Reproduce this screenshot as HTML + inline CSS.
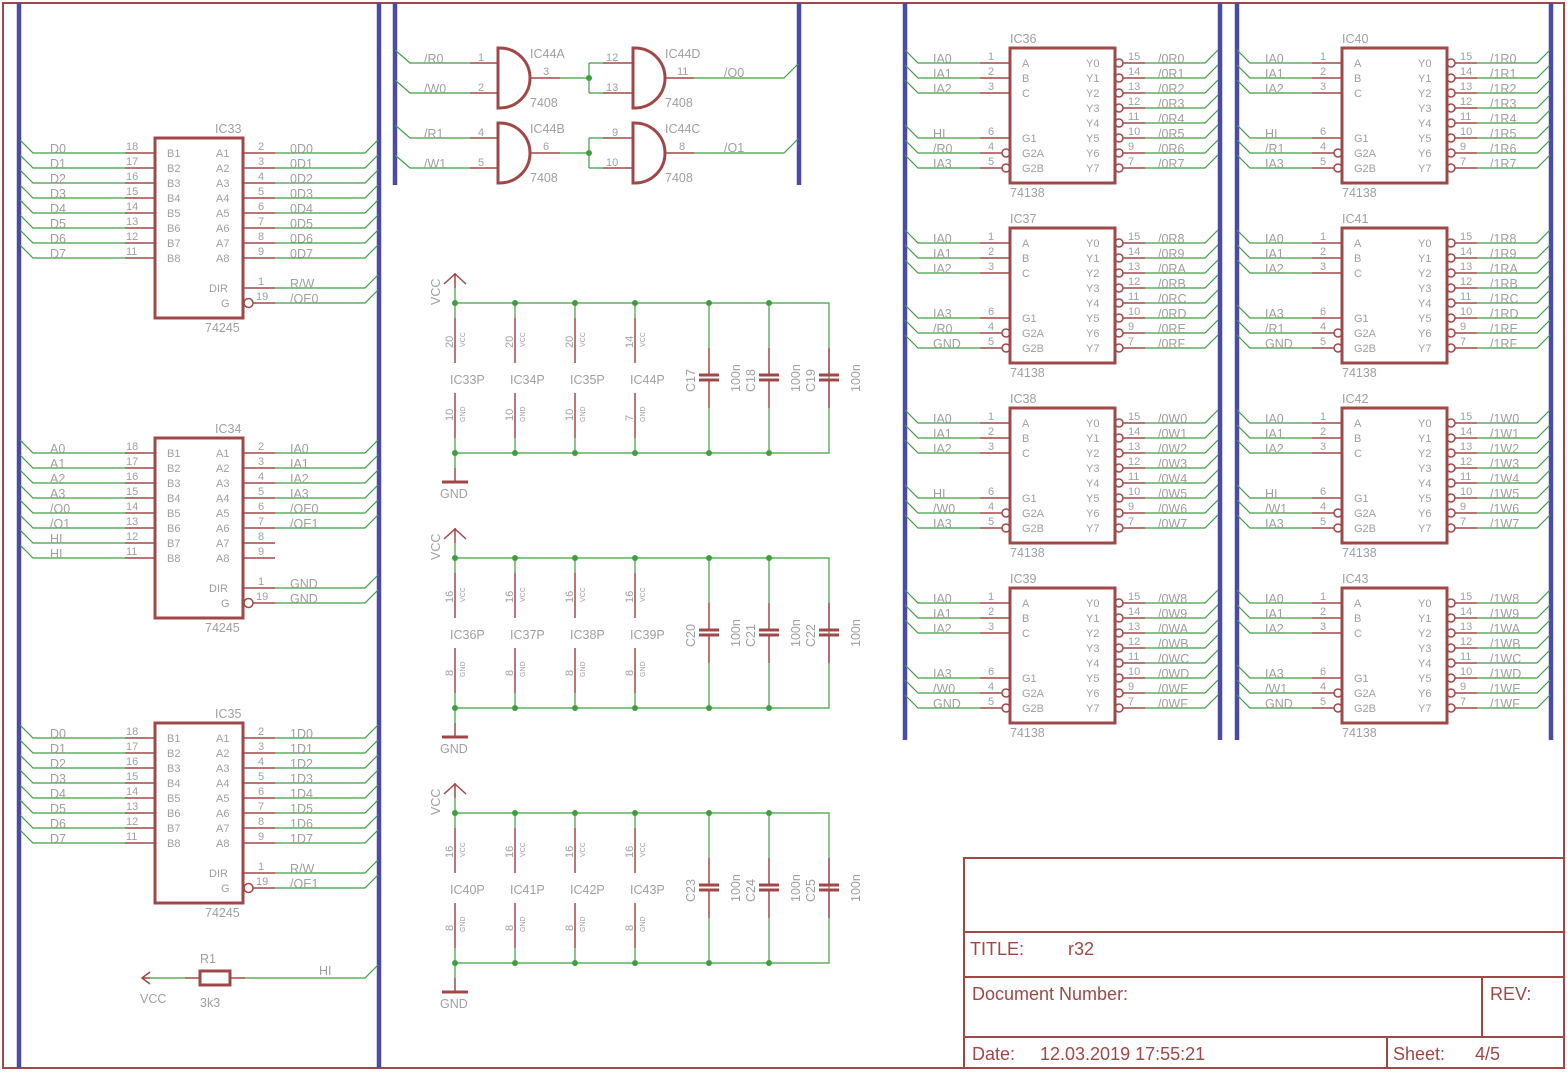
<!DOCTYPE html>
<html><head><meta charset="utf-8"><style>
html,body{margin:0;padding:0;background:#fff;}
svg{display:block;font-family:"Liberation Sans",sans-serif;}
.t{fill:#a0a0a0;font-size:12.5px;}
.s{fill:#a0a0a0;font-size:11px;}
.x{fill:#a0a0a0;font-size:7px;}
.g{stroke:#3f9f3f;stroke-width:1.2;fill:none;}
.r{stroke:#a04848;stroke-width:1.5;fill:none;}
.rb{stroke:#a04848;stroke-width:3;fill:none;}
.b{stroke:#4a4aa8;stroke-width:4.5;}
.tt{fill:#a04848;font-size:18px;}
</style></head><body>
<svg width="1567" height="1073" viewBox="0 0 1567 1073" xmlns="http://www.w3.org/2000/svg">
<defs>
<g id="c245">
<rect x="155" y="138" width="88" height="180" class="rb"/>
<path class="r" d="M125 153H155M125 168H155M125 183H155M125 198H155M125 213H155M125 228H155M125 243H155M125 258H155M243 153H275M243 168H275M243 183H275M243 198H275M243 213H275M243 228H275M243 243H275M243 258H275M243 288H275M253 303H275"/>
<circle cx="248.5" cy="303" r="4.5" class="r"/>
<path class="g" d="M20 140L33 153H125M20 155L33 168H125M20 170L33 183H125M20 185L33 198H125M20 200L33 213H125M20 215L33 228H125M20 230L33 243H125M20 245L33 258H125M275 153H365L378 140M275 168H365L378 155M275 183H365L378 170M275 198H365L378 185M275 213H365L378 200M275 228H365L378 215M275 288H365L378 275M275 303H365L378 290"/>
<g class="s"><text x="126" y="150">18</text><text x="126" y="165">17</text><text x="126" y="180">16</text><text x="126" y="195">15</text><text x="126" y="210">14</text><text x="126" y="225">13</text><text x="126" y="240">12</text><text x="126" y="255">11</text>
<text x="258" y="150">2</text><text x="258" y="165">3</text><text x="258" y="180">4</text><text x="258" y="195">5</text><text x="258" y="210">6</text><text x="258" y="225">7</text><text x="258" y="240">8</text><text x="258" y="255">9</text><text x="258" y="285">1</text><text x="256" y="300">19</text>
<text x="167" y="157">B1</text><text x="167" y="172">B2</text><text x="167" y="187">B3</text><text x="167" y="202">B4</text><text x="167" y="217">B5</text><text x="167" y="232">B6</text><text x="167" y="247">B7</text><text x="167" y="262">B8</text>
<text x="216" y="157">A1</text><text x="216" y="172">A2</text><text x="216" y="187">A3</text><text x="216" y="202">A4</text><text x="216" y="217">A5</text><text x="216" y="232">A6</text><text x="216" y="247">A7</text><text x="216" y="262">A8</text>
<text x="209" y="292">DIR</text><text x="221" y="307">G</text></g>
<text class="t" x="205" y="332">74245</text>
</g>
<g id="c138">
<rect x="1010" y="48" width="105" height="135" class="rb"/>
<path class="r" d="M980 63H1010M980 78H1010M980 93H1010M980 138H1010M980 153H1002M980 168H1002M1123 63H1145M1123 78H1145M1123 93H1145M1123 108H1145M1123 123H1145M1123 138H1145M1123 153H1145M1123 168H1145"/>
<g class="r"><circle cx="1006" cy="153" r="4"/><circle cx="1006" cy="168" r="4"/><circle cx="1119" cy="63" r="4"/><circle cx="1119" cy="78" r="4"/><circle cx="1119" cy="93" r="4"/><circle cx="1119" cy="108" r="4"/><circle cx="1119" cy="123" r="4"/><circle cx="1119" cy="138" r="4"/><circle cx="1119" cy="153" r="4"/><circle cx="1119" cy="168" r="4"/></g>
<path class="g" d="M905 50L918 63H980M905 65L918 78H980M905 80L918 93H980M905 125L918 138H980M905 140L918 153H980M905 155L918 168H980M1145 63H1205L1218 50M1145 78H1205L1218 65M1145 93H1205L1218 80M1145 108H1205L1218 95M1145 123H1205L1218 110M1145 138H1205L1218 125M1145 153H1205L1218 140M1145 168H1205L1218 155"/>
<g class="s"><text x="988" y="60">1</text><text x="988" y="75">2</text><text x="988" y="90">3</text><text x="988" y="135">6</text><text x="988" y="150">4</text><text x="988" y="165">5</text>
<text x="1128" y="60">15</text><text x="1128" y="75">14</text><text x="1128" y="90">13</text><text x="1128" y="105">12</text><text x="1128" y="120">11</text><text x="1128" y="135">10</text><text x="1128" y="150">9</text><text x="1128" y="165">7</text>
<text x="1022" y="67">A</text><text x="1022" y="82">B</text><text x="1022" y="97">C</text><text x="1022" y="142">G1</text><text x="1022" y="157">G2A</text><text x="1022" y="172">G2B</text>
<text x="1086" y="67">Y0</text><text x="1086" y="82">Y1</text><text x="1086" y="97">Y2</text><text x="1086" y="112">Y3</text><text x="1086" y="127">Y4</text><text x="1086" y="142">Y5</text><text x="1086" y="157">Y6</text><text x="1086" y="172">Y7</text></g>
<text class="t" x="1010" y="197">74138</text>
</g>
<g id="pw">
<path class="g" d="M455 288V303H829V453H455V468M455 303V318M515 303V318M575 303V318M635 303V318M455 438V453M515 438V453M575 438V453M635 438V453M709 303V348M769 303V348M829 303V348M709 408V453M769 408V453"/>
<path class="r" d="M455 273V288M444 284L455 274L466 284M455 468V482M455 318V363M515 318V363M575 318V363M635 318V363M455 393V438M515 393V438M575 393V438M635 393V438M709 348V375M769 348V375M829 348V375M709 380V408M769 380V408M829 380V408"/>
<path class="rb" d="M442 482H468M699 375H719M699 380H719M759 375H779M759 380H779M819 375H839M819 380H839"/>
<g fill="#3f9f3f"><circle cx="455" cy="303" r="3"/><circle cx="515" cy="303" r="3"/><circle cx="575" cy="303" r="3"/><circle cx="635" cy="303" r="3"/><circle cx="709" cy="303" r="3"/><circle cx="769" cy="303" r="3"/><circle cx="455" cy="453" r="3"/><circle cx="515" cy="453" r="3"/><circle cx="575" cy="453" r="3"/><circle cx="635" cy="453" r="3"/><circle cx="709" cy="453" r="3"/><circle cx="769" cy="453" r="3"/></g>
<text class="t" transform="translate(440,305) rotate(-90)">VCC</text>
<text class="t" x="440" y="498">GND</text>
<g class="x"><text transform="translate(465,347) rotate(-90)">VCC</text><text transform="translate(525,347) rotate(-90)">VCC</text><text transform="translate(585,347) rotate(-90)">VCC</text><text transform="translate(645,347) rotate(-90)">VCC</text>
<text transform="translate(465,422) rotate(-90)">GND</text><text transform="translate(525,422) rotate(-90)">GND</text><text transform="translate(585,422) rotate(-90)">GND</text><text transform="translate(645,422) rotate(-90)">GND</text></g>
<g class="t"><text transform="translate(740,392) rotate(-90)">100n</text><text transform="translate(800,392) rotate(-90)">100n</text><text transform="translate(860,392) rotate(-90)">100n</text></g>
</g>
</defs>

<rect x="3" y="3" width="1561" height="1065" fill="none" stroke="#a04848" stroke-width="2"/>
<g class="b"><line x1="19" y1="3" x2="19" y2="1068"/><line x1="379" y1="3" x2="379" y2="1068"/><line x1="395" y1="3" x2="395" y2="185"/><line x1="799" y1="3" x2="799" y2="185"/><line x1="905" y1="3" x2="905" y2="740"/><line x1="1220" y1="3" x2="1220" y2="740"/><line x1="1237" y1="3" x2="1237" y2="740"/><line x1="1551" y1="3" x2="1551" y2="740"/></g>

<use href="#c245"/>
<g class="t"><text x="215" y="133">IC33</text>
<text x="50" y="153">D0</text><text x="50" y="168">D1</text><text x="50" y="183">D2</text><text x="50" y="198">D3</text><text x="50" y="213">D4</text><text x="50" y="228">D5</text><text x="50" y="243">D6</text><text x="50" y="258">D7</text>
<text x="290" y="153">0D0</text><text x="290" y="168">0D1</text><text x="290" y="183">0D2</text><text x="290" y="198">0D3</text><text x="290" y="213">0D4</text><text x="290" y="228">0D5</text><text x="290" y="243">0D6</text><text x="290" y="258">0D7</text><text x="290" y="288">R/W</text><text x="290" y="303">/OE0</text></g>
<path class="g" d="M275 243H365L378 230M275 258H365L378 245"/>

<g transform="translate(0,300)"><use href="#c245"/>
<g class="t"><text x="215" y="133">IC34</text>
<text x="50" y="153">A0</text><text x="50" y="168">A1</text><text x="50" y="183">A2</text><text x="50" y="198">A3</text><text x="50" y="213">/O0</text><text x="50" y="228">/O1</text><text x="50" y="243">HI</text><text x="50" y="258">HI</text>
<text x="290" y="153">IA0</text><text x="290" y="168">IA1</text><text x="290" y="183">IA2</text><text x="290" y="198">IA3</text><text x="290" y="213">/OE0</text><text x="290" y="228">/OE1</text><text x="290" y="288">GND</text><text x="290" y="303">GND</text></g></g>

<g transform="translate(0,585)"><use href="#c245"/>
<path class="g" d="M275 243H365L378 230M275 258H365L378 245"/>
<g class="t"><text x="215" y="133">IC35</text>
<text x="50" y="153">D0</text><text x="50" y="168">D1</text><text x="50" y="183">D2</text><text x="50" y="198">D3</text><text x="50" y="213">D4</text><text x="50" y="228">D5</text><text x="50" y="243">D6</text><text x="50" y="258">D7</text>
<text x="290" y="153">1D0</text><text x="290" y="168">1D1</text><text x="290" y="183">1D2</text><text x="290" y="198">1D3</text><text x="290" y="213">1D4</text><text x="290" y="228">1D5</text><text x="290" y="243">1D6</text><text x="290" y="258">1D7</text><text x="290" y="288">R/W</text><text x="290" y="303">/OE1</text></g></g>

<path class="r" d="M150 972L142 978L150 984M142 978H150M185 978H200M230 978H245"/>
<rect x="200" y="971" width="30" height="14" class="rb" stroke-width="2.5"/>
<path class="g" d="M150 978H185M245 978H365L378 965"/>
<g class="t"><text x="200" y="963">R1</text><text x="140" y="1003">VCC</text><text x="200" y="1007">3k3</text><text x="319" y="975">HI</text></g>

<g id="gates">
<path class="rb" d="M498 48H500A30 30 0 0 1 500 108H498Z"/>
<path class="rb" d="M633 48H635A30 30 0 0 1 635 108H633Z"/>
<path class="g" d="M395 50L410 63H470M395 80L410 93H470M560 78H589M589 63V93M589 63H603M589 93H603M694 78H784L798 64"/>
<path class="r" d="M470 63H498M470 93H498M530 78H560M603 63H633M603 93H633M665 78H694"/>
<circle cx="589" cy="78" r="3" fill="#3f9f3f"/>
</g>
<use href="#gates" transform="translate(0,75)"/>
<g class="t"><text x="424" y="63">/R0</text><text x="424" y="93">/W0</text><text x="530" y="58">IC44A</text><text x="530" y="107">7408</text><text x="665" y="58">IC44D</text><text x="665" y="107">7408</text><text x="724" y="77">/O0</text>
<text x="424" y="138">/R1</text><text x="424" y="168">/W1</text><text x="530" y="133">IC44B</text><text x="530" y="182">7408</text><text x="665" y="133">IC44C</text><text x="665" y="182">7408</text><text x="724" y="152">/O1</text></g>
<g class="s"><text x="478" y="61">1</text><text x="478" y="91">2</text><text x="543" y="75">3</text><text x="606" y="61">12</text><text x="606" y="91">13</text><text x="677" y="75">11</text>
<text x="478" y="136">4</text><text x="478" y="166">5</text><text x="543" y="150">6</text><text x="612" y="136">9</text><text x="606" y="166">10</text><text x="679" y="150">8</text></g>

<use href="#pw"/>
<g class="t"><text x="450" y="384">IC33P</text><text x="510" y="384">IC34P</text><text x="570" y="384">IC35P</text><text x="630" y="384">IC44P</text>
<text transform="translate(695,392) rotate(-90)">C17</text><text transform="translate(755,392) rotate(-90)">C18</text><text transform="translate(815,392) rotate(-90)">C19</text>
<g class="s"><text transform="translate(453,348) rotate(-90)">20</text><text transform="translate(513,348) rotate(-90)">20</text><text transform="translate(573,348) rotate(-90)">20</text><text transform="translate(633,348) rotate(-90)">14</text>
<text transform="translate(453,421) rotate(-90)">10</text><text transform="translate(513,421) rotate(-90)">10</text><text transform="translate(573,421) rotate(-90)">10</text><text transform="translate(633,421) rotate(-90)">7</text></g></g>
<g transform="translate(0,255)"><use href="#pw"/>
<g class="t"><text x="450" y="384">IC36P</text><text x="510" y="384">IC37P</text><text x="570" y="384">IC38P</text><text x="630" y="384">IC39P</text>
<text transform="translate(695,392) rotate(-90)">C20</text><text transform="translate(755,392) rotate(-90)">C21</text><text transform="translate(815,392) rotate(-90)">C22</text>
<g class="s"><text transform="translate(453,348) rotate(-90)">16</text><text transform="translate(513,348) rotate(-90)">16</text><text transform="translate(573,348) rotate(-90)">16</text><text transform="translate(633,348) rotate(-90)">16</text>
<text transform="translate(453,421) rotate(-90)">8</text><text transform="translate(513,421) rotate(-90)">8</text><text transform="translate(573,421) rotate(-90)">8</text><text transform="translate(633,421) rotate(-90)">8</text></g></g></g>
<g transform="translate(0,510)"><use href="#pw"/>
<g class="t"><text x="450" y="384">IC40P</text><text x="510" y="384">IC41P</text><text x="570" y="384">IC42P</text><text x="630" y="384">IC43P</text>
<text transform="translate(695,392) rotate(-90)">C23</text><text transform="translate(755,392) rotate(-90)">C24</text><text transform="translate(815,392) rotate(-90)">C25</text>
<g class="s"><text transform="translate(453,348) rotate(-90)">16</text><text transform="translate(513,348) rotate(-90)">16</text><text transform="translate(573,348) rotate(-90)">16</text><text transform="translate(633,348) rotate(-90)">16</text>
<text transform="translate(453,421) rotate(-90)">8</text><text transform="translate(513,421) rotate(-90)">8</text><text transform="translate(573,421) rotate(-90)">8</text><text transform="translate(633,421) rotate(-90)">8</text></g></g></g>

<use href="#c138"/>
<g class="t"><text x="1010" y="43">IC36</text><text x="933" y="63">IA0</text><text x="933" y="78">IA1</text><text x="933" y="93">IA2</text><text x="933" y="138">HI</text><text x="933" y="153">/R0</text><text x="933" y="168">IA3</text>
<text x="1158" y="63">/0R0</text><text x="1158" y="78">/0R1</text><text x="1158" y="93">/0R2</text><text x="1158" y="108">/0R3</text><text x="1158" y="123">/0R4</text><text x="1158" y="138">/0R5</text><text x="1158" y="153">/0R6</text><text x="1158" y="168">/0R7</text></g>
<g transform="translate(0,180)"><use href="#c138"/>
<g class="t"><text x="1010" y="43">IC37</text><text x="933" y="63">IA0</text><text x="933" y="78">IA1</text><text x="933" y="93">IA2</text><text x="933" y="138">IA3</text><text x="933" y="153">/R0</text><text x="933" y="168">GND</text>
<text x="1158" y="63">/0R8</text><text x="1158" y="78">/0R9</text><text x="1158" y="93">/0RA</text><text x="1158" y="108">/0RB</text><text x="1158" y="123">/0RC</text><text x="1158" y="138">/0RD</text><text x="1158" y="153">/0RE</text><text x="1158" y="168">/0RF</text></g></g>
<g transform="translate(0,360)"><use href="#c138"/>
<g class="t"><text x="1010" y="43">IC38</text><text x="933" y="63">IA0</text><text x="933" y="78">IA1</text><text x="933" y="93">IA2</text><text x="933" y="138">HI</text><text x="933" y="153">/W0</text><text x="933" y="168">IA3</text>
<text x="1158" y="63">/0W0</text><text x="1158" y="78">/0W1</text><text x="1158" y="93">/0W2</text><text x="1158" y="108">/0W3</text><text x="1158" y="123">/0W4</text><text x="1158" y="138">/0W5</text><text x="1158" y="153">/0W6</text><text x="1158" y="168">/0W7</text></g></g>
<g transform="translate(0,540)"><use href="#c138"/>
<g class="t"><text x="1010" y="43">IC39</text><text x="933" y="63">IA0</text><text x="933" y="78">IA1</text><text x="933" y="93">IA2</text><text x="933" y="138">IA3</text><text x="933" y="153">/W0</text><text x="933" y="168">GND</text>
<text x="1158" y="63">/0W8</text><text x="1158" y="78">/0W9</text><text x="1158" y="93">/0WA</text><text x="1158" y="108">/0WB</text><text x="1158" y="123">/0WC</text><text x="1158" y="138">/0WD</text><text x="1158" y="153">/0WE</text><text x="1158" y="168">/0WF</text></g></g>
<g transform="translate(332,0)"><use href="#c138"/>
<g class="t"><text x="1010" y="43">IC40</text><text x="933" y="63">IA0</text><text x="933" y="78">IA1</text><text x="933" y="93">IA2</text><text x="933" y="138">HI</text><text x="933" y="153">/R1</text><text x="933" y="168">IA3</text>
<text x="1158" y="63">/1R0</text><text x="1158" y="78">/1R1</text><text x="1158" y="93">/1R2</text><text x="1158" y="108">/1R3</text><text x="1158" y="123">/1R4</text><text x="1158" y="138">/1R5</text><text x="1158" y="153">/1R6</text><text x="1158" y="168">/1R7</text></g></g>
<g transform="translate(332,180)"><use href="#c138"/>
<g class="t"><text x="1010" y="43">IC41</text><text x="933" y="63">IA0</text><text x="933" y="78">IA1</text><text x="933" y="93">IA2</text><text x="933" y="138">IA3</text><text x="933" y="153">/R1</text><text x="933" y="168">GND</text>
<text x="1158" y="63">/1R8</text><text x="1158" y="78">/1R9</text><text x="1158" y="93">/1RA</text><text x="1158" y="108">/1RB</text><text x="1158" y="123">/1RC</text><text x="1158" y="138">/1RD</text><text x="1158" y="153">/1RE</text><text x="1158" y="168">/1RF</text></g></g>
<g transform="translate(332,360)"><use href="#c138"/>
<g class="t"><text x="1010" y="43">IC42</text><text x="933" y="63">IA0</text><text x="933" y="78">IA1</text><text x="933" y="93">IA2</text><text x="933" y="138">HI</text><text x="933" y="153">/W1</text><text x="933" y="168">IA3</text>
<text x="1158" y="63">/1W0</text><text x="1158" y="78">/1W1</text><text x="1158" y="93">/1W2</text><text x="1158" y="108">/1W3</text><text x="1158" y="123">/1W4</text><text x="1158" y="138">/1W5</text><text x="1158" y="153">/1W6</text><text x="1158" y="168">/1W7</text></g></g>
<g transform="translate(332,540)"><use href="#c138"/>
<g class="t"><text x="1010" y="43">IC43</text><text x="933" y="63">IA0</text><text x="933" y="78">IA1</text><text x="933" y="93">IA2</text><text x="933" y="138">IA3</text><text x="933" y="153">/W1</text><text x="933" y="168">GND</text>
<text x="1158" y="63">/1W8</text><text x="1158" y="78">/1W9</text><text x="1158" y="93">/1WA</text><text x="1158" y="108">/1WB</text><text x="1158" y="123">/1WC</text><text x="1158" y="138">/1WD</text><text x="1158" y="153">/1WE</text><text x="1158" y="168">/1WF</text></g></g>

<path d="M964 1068V858H1565M964 932H1565M964 977H1565M964 1037H1565M1482 977V1037M1387 1037V1068" stroke="#a04848" stroke-width="2" fill="none"/>
<g class="tt"><text x="970" y="955">TITLE:</text><text x="1068" y="955">r32</text><text x="972" y="1000">Document Number:</text><text x="1490" y="1000">REV:</text>
<text x="972" y="1060">Date:</text><text x="1040" y="1060">12.03.2019 17:55:21</text><text x="1393" y="1060">Sheet:</text><text x="1475" y="1060">4/5</text></g>
</svg>
</body></html>
